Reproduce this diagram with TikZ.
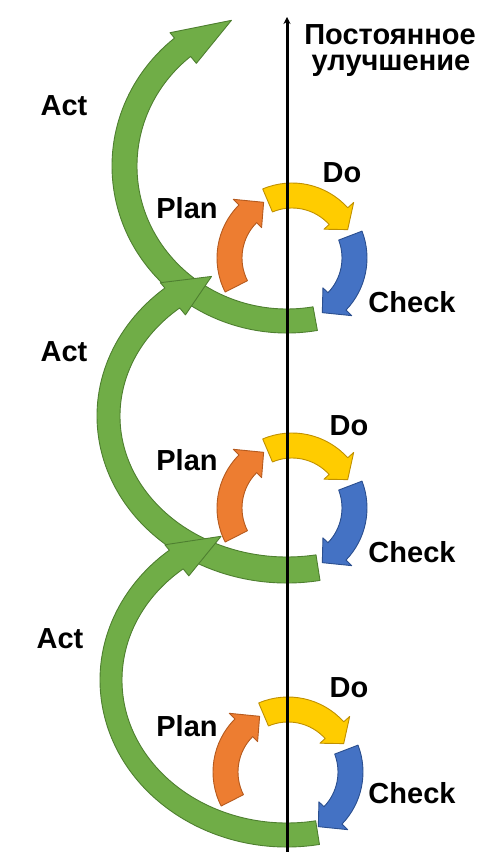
\documentclass[tikz,border=0pt]{standalone}
\usepackage{fontspec}
\setmainfont{Liberation Sans}
\usetikzlibrary{calc,arrows.meta}
\definecolor{actfill}{HTML}{70AD47}
\definecolor{actdraw}{HTML}{4E7F30}
\definecolor{planfill}{HTML}{ED7D31}
\definecolor{plandraw}{HTML}{B55A1E}
\definecolor{dofill}{HTML}{FFCC00}
\definecolor{dodraw}{HTML}{C09000}
\definecolor{checkfill}{HTML}{4472C4}
\definecolor{checkdraw}{HTML}{2B4F8F}
\tikzset{
  actshape/.style={fill=actfill,draw=actdraw,line width=0.9pt,line join=round},
  planshape/.style={fill=planfill,draw=plandraw,line width=0.9pt,line join=round},
  doshape/.style={fill=dofill,draw=dodraw,line width=0.9pt,line join=round},
  checkshape/.style={fill=checkfill,draw=checkdraw,line width=0.9pt,line join=round},
  lbl/.style={inner sep=0pt,font=\bfseries\fontsize{29}{32}\selectfont},
  axisline/.style={line width=3pt,-{Stealth[length=7pt,width=7pt]}}
}
% ring arrow: #1 centre, #2 tail angle, #3 head base angle, #4 tip angle, #5 style
\newcommand\ringarrow[5]{%
  \path[#5] ($(#1)+(#2:75pt)$) arc[start angle=#2,end angle=#3,radius=75pt]
    -- ($(#1)+(#3:83pt)$) -- ($(#1)+(#4:62.5pt)$) -- ($(#1)+(#3:43pt)$)
    -- ($(#1)+(#3:50pt)$) arc[start angle=#3,end angle=#2,radius=50pt] -- cycle;}
% big arrow: #1 centre, #2 a out, #3 b out, #4 a in, #5 b in, #6 tail, #7 base, #8 tip
\newcommand\bigarrow[8]{%
  \path[actshape] ($(#1)+(#6:#2pt and #3pt)$)
    arc[start angle=#6,end angle=#7,x radius=#2pt,y radius=#3pt]
    -- ($(#1)+(#7:#2pt+7pt and #3pt+7pt)$)
    -- ($(#1)+(#8:#2pt/2+#4pt/2 and #3pt/2+#5pt/2)$)
    -- ($(#1)+(#7:#4pt-9pt and #5pt-9pt)$)
    -- ($(#1)+(#7:#4pt and #5pt)$)
    arc[start angle=#7,end angle=#6,x radius=#4pt,y radius=#5pt] -- cycle;}
\begin{document}
\begin{tikzpicture}[x=1pt,y=1pt]
\useasboundingbox (0,0) rectangle (481,852);
% centres
\coordinate (g1) at (287,686);
\coordinate (g2) at (287,436);
\coordinate (g3) at (287,172);
\coordinate (c1) at (292,594);
\coordinate (c2) at (292,344);
\coordinate (c3) at (288,80);
% big Act arrows
\bigarrow{g1}{175}{167}{150}{143}{-80}{-230}{-250}
\bigarrow{g2}{190}{167}{167}{141}{-80}{-230}{-245}
\bigarrow{g3}{187}{167}{165}{143}{-80}{-231}{-248}
% small PDCA cycles
\foreach \c in {c1,c2,c3}{
  \ringarrow{\c}{207}{135}{117}{planshape}
  \ringarrow{\c}{113}{42}{27}{doshape}
  \ringarrow{\c}{21}{-44}{-61}{checkshape}
}
% axis
\coordinate (lb) at (287,0);
\coordinate (lt) at (287,835);
\draw[axisline] (lb) -- (lt);
% labels
\node[lbl] (title1) at (390,817) {Постоянное};
\node[lbl,anchor=base] (title2) at (391,781) {улучшение};
\node[lbl] (act1) at (64,746) {Act};
\node[lbl] (act2) at (64,500) {Act};
\node[lbl] (act3) at (60,213) {Act};
\node[lbl] (plan1) at (187,644) {Plan};
\node[lbl] (plan2) at (187,392) {Plan};
\node[lbl] (plan3) at (187,126) {Plan};
\node[lbl] (do1) at (342,679) {Do};
\node[lbl] (do2) at (349,426) {Do};
\node[lbl] (do3) at (349,164) {Do};
\node[lbl] (check1) at (412,550) {Check};
\node[lbl] (check2) at (412,300) {Check};
\node[lbl] (check3) at (412,59) {Check};
\end{tikzpicture}
\end{document}
